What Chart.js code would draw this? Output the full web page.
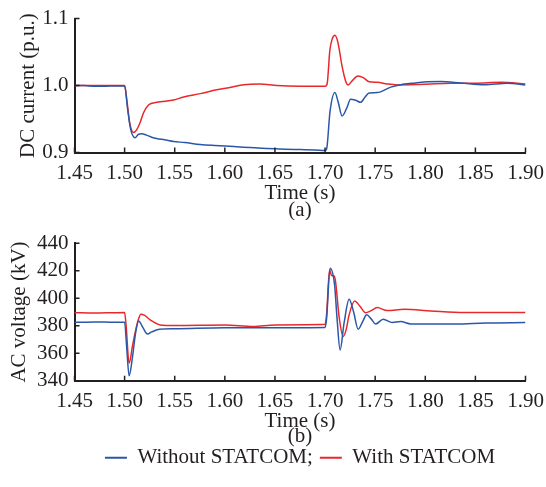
<!DOCTYPE html>
<html>
<head>
<meta charset="utf-8">
<script src="https://cdn.jsdelivr.net/npm/chart.js@4"></script>
<style>
  html, body { margin: 0; padding: 0; background: #fff; }
  #wrap { position: relative; width: 546px; height: 487px; }
  canvas { position: absolute; left: 0; }
  #dc { top: 0; }
  #ac { top: 220px; }
</style>
</head>
<body>
<div id="wrap">
  <canvas id="dc" width="546" height="220"></canvas>
  <canvas id="ac" width="546" height="267"></canvas>
</div>
<script>
// tick labels
const timeTicks = [1.45, 1.50, 1.55, 1.60, 1.65, 1.70, 1.75, 1.80, 1.85, 1.90];
const dcTicks = [0.9, 1.0, 1.1];
const acTicks = [340, 360, 380, 400, 420, 440];
const legendText = ["Without STATCOM;", "With STATCOM"];

// (a) DC current, without STATCOM
const dcTimeWithout = [1.45, 1.46, 1.47, 1.48, 1.49, 1.50, 1.503, 1.506, 1.5105, 1.5135, 1.517, 1.522, 1.527,
  1.532, 1.54, 1.549, 1.56, 1.5755, 1.59, 1.6088, 1.625, 1.642, 1.66, 1.6755, 1.69, 1.70, 1.7015, 1.705,
  1.7098, 1.713, 1.717, 1.7215, 1.7255, 1.7305, 1.7355, 1.74, 1.744, 1.752, 1.7655, 1.779, 1.79, 1.802,
  1.8155, 1.8355, 1.859, 1.882, 1.90];
const dcWithout = [1.000, 1.000, 0.999, 0.999, 0.9995, 0.9995, 0.965, 0.935, 0.922, 0.927, 0.928, 0.926, 0.923,
  0.921, 0.919, 0.9165, 0.915, 0.912, 0.9105, 0.909, 0.9075, 0.906, 0.905, 0.9045, 0.904, 0.903, 0.905, 0.962,
  0.9895, 0.976, 0.9546, 0.966, 0.9795, 0.978, 0.975, 0.983, 0.989, 0.9895, 0.9977, 1.0024, 1.004, 1.0057,
  1.006, 1.004, 1.0014, 1.0034, 1.001];

// (a) DC current, with STATCOM
const dcTimeWith = [1.45, 1.47, 1.49, 1.50, 1.5025, 1.505, 1.5088, 1.512, 1.5155, 1.5188, 1.5238, 1.532, 1.549,
  1.559, 1.5755, 1.592, 1.605, 1.619, 1.635, 1.652, 1.675, 1.70, 1.702, 1.7048, 1.707, 1.7098, 1.7128, 1.717,
  1.7205, 1.723, 1.727, 1.7328, 1.739, 1.744, 1.752, 1.762, 1.772, 1.79, 1.8055, 1.8255, 1.859, 1.8755, 1.90];
const dcWith = [1.000, 1.000, 1.000, 1.000, 0.975, 0.945, 0.930, 0.934, 0.945, 0.959, 0.971, 0.975, 0.9785,
  0.983, 0.988, 0.9938, 0.997, 1.0014, 1.0024, 1.000, 0.999, 0.999, 1.002, 1.053, 1.069, 1.075, 1.0646, 1.0287,
  1.007, 1.001, 1.007, 1.0143, 1.011, 1.0057, 1.005, 1.0024, 1.001, 1.0015, 1.0024, 1.0034, 1.004, 1.005, 1.0024];

// (b) AC voltage, without STATCOM
const acTimeWithout = [1.45, 1.47, 1.49, 1.50, 1.502, 1.5045, 1.508, 1.511, 1.514, 1.518, 1.5228, 1.527, 1.535,
  1.55, 1.60, 1.65, 1.70, 1.7015, 1.705, 1.7095, 1.712, 1.715, 1.719, 1.724, 1.7285, 1.733, 1.7375, 1.7415,
  1.746, 1.7505, 1.758, 1.767, 1.7755, 1.7855, 1.80, 1.83, 1.86, 1.90];
const acWithout = [382.5, 382.8, 382.5, 382.5, 365, 343.5, 358, 375, 383.5, 379, 374, 375.5, 377.5,
  377.8, 378.6, 378.6, 378.8, 385, 421.8, 409.7, 385, 362.4, 382, 399.3, 390, 377.5, 383, 387.9,
  385, 381.3, 384.7, 382.3, 383, 381.3, 381.3, 381.3, 382, 382.3];

// (b) AC voltage, with STATCOM
const acTimeWith = [1.45, 1.47, 1.49, 1.50, 1.5015, 1.5045, 1.508, 1.5105, 1.5135, 1.5162, 1.52, 1.5255, 1.5355,
  1.55, 1.60, 1.6285, 1.65, 1.70, 1.7015, 1.7045, 1.7065, 1.709, 1.7105, 1.714, 1.718, 1.721, 1.724, 1.7295,
  1.735, 1.7405, 1.746, 1.752, 1.762, 1.779, 1.8055, 1.839, 1.872, 1.90];
const acWith = [389.5, 389.2, 389.5, 389.6, 380, 352.7, 366, 375, 384, 388.4, 387.5, 384.2, 380.6,
  380.2, 380.6, 379.4, 380.6, 381, 388, 420.6, 416.5, 416.2, 412, 386.6, 372.1, 377, 387.9, 398,
  394, 389.5, 391, 393.2, 391, 392, 390.8, 389.6, 389.6, 389.6];

const FONT = "'Liberation Serif', 'Times New Roman', serif";
const INK = "#231F20";
const BLUE = "#2B57A8";
const RED = "#E8282B";

function points(times, values) {
  return times.map((t, i) => ({ x: t, y: values[i] }));
}

// short tick marks pointing into the plot, like the original figure
const innerTicks = {
  id: "innerTicks",
  afterDraw(chart) {
    const { ctx, chartArea, scales: { x, y } } = chart;
    ctx.save();
    ctx.strokeStyle = INK;
    ctx.lineWidth = 1.5;
    ctx.beginPath();
    x.ticks.forEach(t => {
      const px = x.getPixelForValue(t.value);
      ctx.moveTo(px, chartArea.bottom);
      ctx.lineTo(px, chartArea.bottom - 5);
    });
    y.ticks.forEach(t => {
      const py = y.getPixelForValue(t.value);
      ctx.moveTo(chartArea.left, py);
      ctx.lineTo(chartArea.left + 5, py);
    });
    ctx.stroke();
    ctx.restore();
  }
};

function makeChart(id, cfg) {
  return new Chart(document.getElementById(id), {
    type: "line",
    data: {
      datasets: [
        { label: legendText[0], data: points(cfg.tBlue, cfg.blue), borderColor: BLUE, backgroundColor: BLUE },
        { label: legendText[1], data: points(cfg.tRed, cfg.red), borderColor: RED, backgroundColor: RED }
      ]
    },
    options: {
      responsive: false,
      animation: false,
      layout: { padding: { top: cfg.padTop, right: 20.5, bottom: cfg.padBottom, left: 0 } },
      elements: {
        point: { radius: 0 },
        line: { borderWidth: 1.5, cubicInterpolationMode: "monotone" }
      },
      scales: {
        x: {
          type: "linear",
          min: 1.45,
          max: 1.90,
          afterBuildTicks: scale => { scale.ticks = timeTicks.map(v => ({ value: v })); },
          afterFit: scale => {
            scale.height = cfg.xHeight;
            scale.paddingLeft = 0;
            scale.paddingRight = 0;
          },
          grid: { display: false, drawTicks: false },
          border: { color: INK, width: 2 },
          ticks: {
            padding: 8,
            autoSkip: false,
            maxRotation: 0,
            color: INK,
            font: { family: FONT, size: 21 },
            callback: v => Number(v).toFixed(2)
          },
          title: {
            display: true,
            text: "Time (s)",
            color: INK,
            font: { family: FONT, size: 21, lineHeight: 0.72 },
            padding: 0
          }
        },
        y: {
          min: cfg.yTicks[0],
          max: cfg.yTicks[cfg.yTicks.length - 1],
          afterBuildTicks: scale => { scale.ticks = cfg.yTicks.map(v => ({ value: v })); },
          afterFit: scale => { scale.width = 74.5; },
          grid: { display: false, drawTicks: false },
          border: { color: INK, width: 2 },
          ticks: {
            padding: 6,
            autoSkip: false,
            color: INK,
            font: { family: FONT, size: 21 },
            callback: cfg.yFormat
          },
          title: {
            display: true,
            text: cfg.yTitle,
            color: INK,
            font: { family: FONT, size: 21 },
            padding: { top: cfg.yTitlePad, bottom: 0 }
          }
        }
      },
      plugins: {
        title: {
          display: true,
          text: cfg.caption,
          position: "bottom",
          fullSize: false,
          color: INK,
          font: { family: FONT, size: 21, weight: "normal", lineHeight: 0.72 },
          padding: { top: cfg.captionPadTop, bottom: cfg.captionPadBottom }
        },
        legend: {
          display: cfg.legend,
          position: "bottom",
          fullSize: false,
          weight: 3000,
          labels: {
            color: INK,
            font: { family: FONT, size: 21 },
            boxWidth: 22,
            boxHeight: 2,
            padding: 7,
            generateLabels: chart => chart.data.datasets.map((ds, i) => ({
              text: legendText[i],
              fillStyle: ds.borderColor,
              strokeStyle: ds.borderColor,
              lineWidth: 0,
              fontColor: INK,
              hidden: false,
              datasetIndex: i
            }))
          }
        },
        tooltip: { enabled: false }
      }
    },
    plugins: [innerTicks]
  });
}

makeChart("dc", {
  tBlue: dcTimeWithout, blue: dcWithout, tRed: dcTimeWith, red: dcWith,
  yTicks: dcTicks, yFormat: v => Number(v).toFixed(1), yTitle: "DC current (p.u.)", yTitlePad: 15.6,
  caption: "(a)", captionPadTop: 2, captionPadBottom: 0, legend: false,
  padTop: 13.3, padBottom: 2.3, xHeight: 48
});

makeChart("ac", {
  tBlue: acTimeWithout, blue: acWithout, tRed: acTimeWith, red: acWith,
  yTicks: acTicks, yFormat: v => String(v), yTitle: "AC voltage (kV)", yTitlePad: 7.2,
  caption: "(b)", captionPadTop: 0, captionPadBottom: -4, legend: true,
  padTop: 23.3, padBottom: 8.7, xHeight: 48.5
});
</script>
</body>
</html>
